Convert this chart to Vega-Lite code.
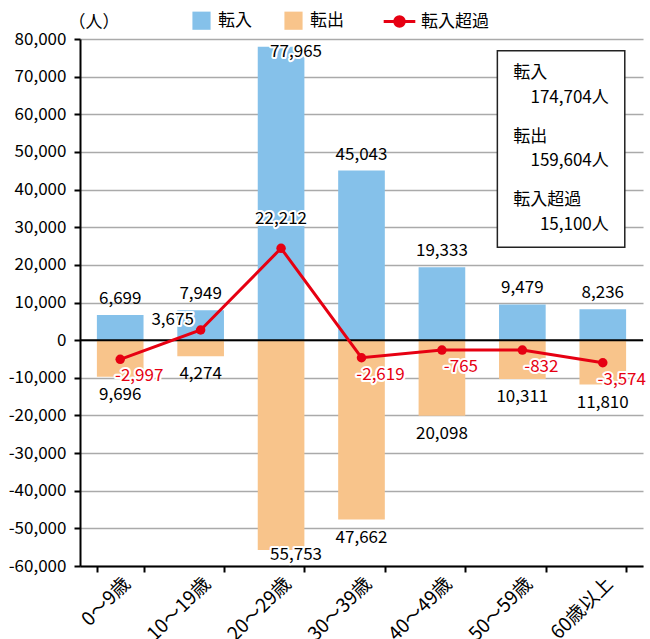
{
  "$schema": "https://vega.github.io/schema/vega-lite/v6.json",
  "width": 563,
  "height": 527,
  "autosize": "none",
  "padding": {"left": 80, "top": 39, "right": 7, "bottom": 73},
  "background": "white",
  "config": {
    "view": {"stroke": null},
    "text": {"font": "Noto Sans CJK JP", "fontSize": 17},
    "axisY": {"tickCount": 15, "tickMinStep": 10000, "labelOverlap": false}
  },
  "datasets": {
    "flows": [
      {"age": "0～9歳", "type": "転入", "value": 6699, "count": 6699},
      {"age": "0～9歳", "type": "転出", "value": -9696, "count": 9696},
      {"age": "10～19歳", "type": "転入", "value": 7949, "count": 7949},
      {"age": "10～19歳", "type": "転出", "value": -4274, "count": 4274},
      {"age": "20～29歳", "type": "転入", "value": 77965, "count": 77965},
      {"age": "20～29歳", "type": "転出", "value": -55753, "count": 55753},
      {"age": "30～39歳", "type": "転入", "value": 45043, "count": 45043},
      {"age": "30～39歳", "type": "転出", "value": -47662, "count": 47662},
      {"age": "40～49歳", "type": "転入", "value": 19333, "count": 19333},
      {"age": "40～49歳", "type": "転出", "value": -20098, "count": 20098},
      {"age": "50～59歳", "type": "転入", "value": 9479, "count": 9479},
      {"age": "50～59歳", "type": "転出", "value": -10311, "count": 10311},
      {"age": "60歳以上", "type": "転入", "value": 8236, "count": 8236},
      {"age": "60歳以上", "type": "転出", "value": -11810, "count": 11810}
    ],
    "net": [
      {"age": "0～9歳", "net": -2997, "label": "-2,997", "plot": -5100},
      {"age": "10～19歳", "net": 3675, "label": "3,675", "plot": 2690},
      {"age": "20～29歳", "net": 22212, "label": "22,212", "plot": 24400},
      {"age": "30～39歳", "net": -2619, "label": "-2,619", "plot": -4680},
      {"age": "40～49歳", "net": -765, "label": "-765", "plot": -2630},
      {"age": "50～59歳", "net": -832, "label": "-832", "plot": -2630},
      {"age": "60歳以上", "net": -3574, "label": "-3,574", "plot": -6010}
    ]
  },
  "layer": [
    {
      "data": {"name": "flows"},
      "mark": {"type": "bar"},
      "encoding": {
        "x": {
          "field": "age", "type": "nominal",
          "sort": ["0～9歳", "10～19歳", "20～29歳", "30～39歳", "40～49歳", "50～59歳", "60歳以上"],
          "scale": {"paddingInner": 0.42, "paddingOuter": 0.21},
          "axis": {
            "title": null, "labelAngle": -45, "labelFontSize": 19,
            "labelFont": "Noto Sans CJK JP", "labelLimit": 300,
            "labelColor": "black", "tickBand": "extent", "domainColor": "black",
            "domainWidth": 2, "tickColor": "black", "tickWidth": 2, "tickSize": 6, "labelPadding": 2
          }
        },
        "y": {
          "field": "value", "type": "quantitative", "stack": null,
          "scale": {"domain": [-60000, 80000], "nice": false},
          "axis": {
            "values": [-60000, -50000, -40000, -30000, -20000, -10000, 0, 10000, 20000, 30000, 40000, 50000, 60000, 70000, 80000],
            "tickCount": 15,
            "labelExpr": "replace(format(datum.value, ','), '−', '-')",
            "labelOverlap": false,
            "grid": true, "gridColor": "#aaaaaa", "gridWidth": 1.5,
            "domainColor": "black", "domainWidth": 2, "tickColor": "black", "tickWidth": 2, "tickSize": 6,
            "labelFontSize": 17, "labelFont": "Noto Sans CJK JP",
            "labelColor": "black", "labelPadding": 8,
            "title": "（人）", "titleAngle": 0, "titleX": -12, "titleY": -17, "titleAlign": "left",
            "titleBaseline": "middle", "titleFontSize": 17, "titleFontWeight": "normal",
            "titleFont": "Noto Sans CJK JP", "titleColor": "black"
          }
        },
        "color": {
          "field": "type", "type": "nominal",
          "scale": {"domain": ["転入", "転出"], "range": ["#85C1EA", "#F8C48B"]},
          "legend": {
            "orient": "none", "legendX": 112, "legendY": -28, "direction": "horizontal", "title": null,
            "symbolType": "square", "symbolSize": 330, "symbolStrokeWidth": 0, "symbolOpacity": 1,
            "labelFontSize": 17, "labelFont": "Noto Sans CJK JP", "labelColor": "black",
            "labelOffset": 7, "columnPadding": 32, "padding": 0
          }
        }
      }
    },
    {
      "data": {"values": [{}]},
      "mark": {"type": "rule", "color": "black", "strokeWidth": 2},
      "encoding": {"y": {"datum": 0, "type": "quantitative"}}
    },
    {
      "data": {"name": "net"},
      "mark": {"type": "line", "strokeWidth": 3},
      "encoding": {
        "x": {"field": "age", "type": "nominal"},
        "y": {"field": "plot", "type": "quantitative"},
        "stroke": {
          "datum": "転入超過", "type": "nominal",
          "scale": {"range": ["#E60012"]},
          "legend": {
            "orient": "none", "legendX": 302, "legendY": -35, "title": null,
            "symbolType": "M-1,0H1M0.3,0A0.3,0.3,0,1,1,-0.3,0A0.3,0.3,0,1,1,0.3,0",
            "symbolSize": 1000, "symbolStrokeWidth": 3, "symbolFillColor": "#E60012",
            "symbolStrokeColor": "#E60012", "labelFontSize": 17, "labelFont": "Noto Sans CJK JP",
            "labelColor": "black", "labelOffset": 4, "padding": 0
          }
        }
      }
    },
    {
      "data": {"name": "net"},
      "mark": {"type": "point", "filled": true, "size": 90, "color": "#E60012", "opacity": 1},
      "encoding": {
        "x": {"field": "age", "type": "nominal"},
        "y": {"field": "plot", "type": "quantitative"}
      }
    },
    {
      "data": {"name": "flows"},
      "transform": [{"filter": "datum.type == '転入' && datum.age != '20～29歳'"}],
      "mark": {"type": "text", "dy": -16, "baseline": "middle", "color": "black"},
      "encoding": {
        "x": {"field": "age", "type": "nominal"},
        "y": {"field": "value", "type": "quantitative"},
        "text": {"field": "count", "type": "quantitative", "format": ","}
      }
    },
    {
      "data": {"name": "flows"},
      "transform": [{"filter": "datum.type == '転出' && datum.age != '20～29歳'"}],
      "mark": {"type": "text", "dy": 18, "baseline": "middle", "color": "black"},
      "encoding": {
        "x": {"field": "age", "type": "nominal"},
        "y": {"field": "value", "type": "quantitative"},
        "text": {"field": "count", "type": "quantitative", "format": ","}
      }
    },
    {
      "data": {"name": "flows"},
      "transform": [{"filter": "datum.age == '20～29歳'"}],
      "mark": {"type": "text", "dx": 15, "dy": 5, "baseline": "middle", "stroke": "white", "strokeWidth": 4, "strokeJoin": "round"},
      "encoding": {
        "x": {"field": "age", "type": "nominal"},
        "y": {"field": "value", "type": "quantitative"},
        "text": {"field": "count", "type": "quantitative", "format": ","}
      }
    },
    {
      "data": {"name": "flows"},
      "transform": [{"filter": "datum.age == '20～29歳'"}],
      "mark": {"type": "text", "dx": 15, "dy": 5, "baseline": "middle", "color": "black"},
      "encoding": {
        "x": {"field": "age", "type": "nominal"},
        "y": {"field": "value", "type": "quantitative"},
        "text": {"field": "count", "type": "quantitative", "format": ","}
      }
    },
    {
      "data": {"name": "net"},
      "transform": [{"filter": "datum.net < 0"}],
      "mark": {"type": "text", "dx": 19, "dy": 17, "baseline": "middle", "stroke": "white", "strokeWidth": 4, "strokeJoin": "round"},
      "encoding": {
        "x": {"field": "age", "type": "nominal"},
        "y": {"field": "plot", "type": "quantitative"},
        "text": {"field": "label", "type": "nominal"}
      }
    },
    {
      "data": {"name": "net"},
      "transform": [{"filter": "datum.net < 0"}],
      "mark": {"type": "text", "dx": 19, "dy": 17, "baseline": "middle", "color": "#E60012"},
      "encoding": {
        "x": {"field": "age", "type": "nominal"},
        "y": {"field": "plot", "type": "quantitative"},
        "text": {"field": "label", "type": "nominal"}
      }
    },
    {
      "data": {"name": "net"},
      "transform": [{"filter": "datum.age == '10～19歳'"}],
      "mark": {"type": "text", "dx": -28, "dy": -10, "baseline": "middle", "stroke": "white", "strokeWidth": 4, "strokeJoin": "round"},
      "encoding": {
        "x": {"field": "age", "type": "nominal"},
        "y": {"field": "plot", "type": "quantitative"},
        "text": {"field": "label", "type": "nominal"}
      }
    },
    {
      "data": {"name": "net"},
      "transform": [{"filter": "datum.age == '10～19歳'"}],
      "mark": {"type": "text", "dx": -28, "dy": -10, "baseline": "middle", "color": "black"},
      "encoding": {
        "x": {"field": "age", "type": "nominal"},
        "y": {"field": "plot", "type": "quantitative"},
        "text": {"field": "label", "type": "nominal"}
      }
    },
    {
      "data": {"name": "net"},
      "transform": [{"filter": "datum.age == '20～29歳'"}],
      "mark": {"type": "text", "dy": -29, "baseline": "middle", "stroke": "white", "strokeWidth": 4, "strokeJoin": "round"},
      "encoding": {
        "x": {"field": "age", "type": "nominal"},
        "y": {"field": "plot", "type": "quantitative"},
        "text": {"field": "label", "type": "nominal"}
      }
    },
    {
      "data": {"name": "net"},
      "transform": [{"filter": "datum.age == '20～29歳'"}],
      "mark": {"type": "text", "dy": -29, "baseline": "middle", "color": "black"},
      "encoding": {
        "x": {"field": "age", "type": "nominal"},
        "y": {"field": "plot", "type": "quantitative"},
        "text": {"field": "label", "type": "nominal"}
      }
    },
    {
      "data": {"values": [{}]},
      "mark": {"type": "rect", "fill": "white", "stroke": "#222222", "strokeWidth": 1.5, "xOffset": -25, "x2Offset": 22},
      "encoding": {
        "x": {"datum": "50～59歳", "type": "nominal"},
        "x2": {"datum": "60歳以上"},
        "y": {"datum": 76900, "type": "quantitative"},
        "y2": {"datum": 24700}
      }
    },
    {
      "data": {"values": [{}]},
      "mark": {
        "type": "text", "align": "left", "baseline": "alphabetic", "dx": -9,
        "font": "Noto Sans CJK JP", "fontSize": 17, "lineHeight": 63.5, "color": "black",
        "text": ["転入", "転出", "転入超過"]
      },
      "encoding": {
        "x": {"datum": "50～59歳", "type": "nominal"},
        "y": {"datum": 69570, "type": "quantitative"}
      }
    },
    {
      "data": {"values": [{}]},
      "mark": {
        "type": "text", "align": "right", "baseline": "alphabetic", "dx": 6,
        "font": "Noto Sans CJK JP", "fontSize": 17, "lineHeight": 63.5, "color": "black",
        "text": ["174,704人", "159,604人", "15,100人"]
      },
      "encoding": {
        "x": {"datum": "60歳以上", "type": "nominal"},
        "y": {"datum": 63060, "type": "quantitative"}
      }
    }
  ]
}
